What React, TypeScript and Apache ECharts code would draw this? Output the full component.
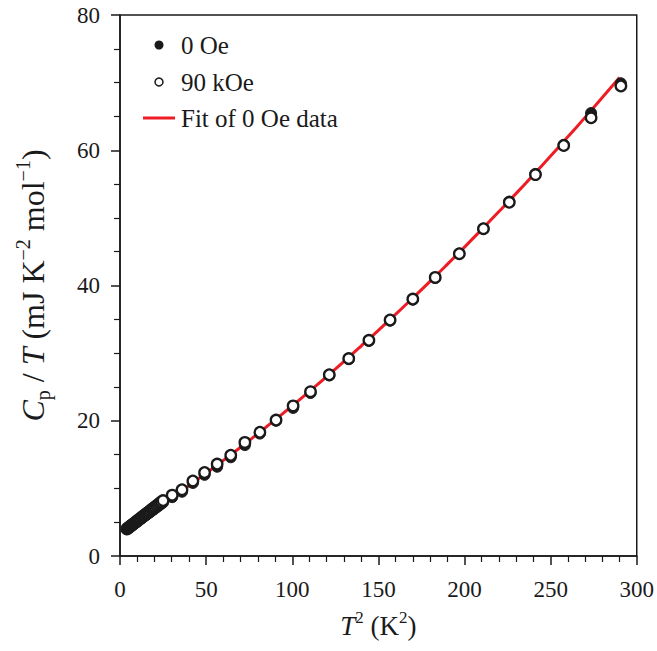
import React, { useEffect, useRef } from "react";
import * as echarts from "echarts";

// T^2 (K^2) positions of the measured points
const tSquared = [
  4, 4.41, 4.84, 5.29, 5.76, 6.25, 6.76, 7.29, 7.84, 8.41, 9, 9.61, 10.24, 10.89,
  11.56, 12.25, 12.96, 13.69, 14.44, 15.21, 16, 16.81, 17.64, 18.49, 19.36, 20.25,
  21.16, 22.09, 23.04, 24.01, 25,
  30.3, 36, 42.3, 49.1, 56.4, 64.3, 72.5, 81.2, 90.6, 100.5, 110.6, 121.5, 132.8,
  144.5, 156.8, 170, 183, 197, 211, 226, 241.2, 257.6, 273.5, 290.8,
];

// Cp/T (mJ K^-2 mol^-1), 0 Oe (filled circles)
const cpZero = [
  3.98, 4.05, 4.13, 4.21, 4.3, 4.39, 4.49, 4.59, 4.69, 4.8, 4.91, 5.02, 5.14, 5.26,
  5.39, 5.52, 5.65, 5.79, 5.93, 6.07, 6.22, 6.37, 6.53, 6.69, 6.85, 7.02,
  7.19, 7.37, 7.55, 7.73, 7.92,
  8.7, 9.5, 10.8, 12.0, 13.2, 14.6, 16.4, 18.1, 20.0, 21.9, 24.1, 26.7, 29.1,
  31.8, 34.8, 37.9, 41.1, 44.7, 48.4, 52.4, 56.5, 60.8, 65.5, 69.9,
];

// Cp/T (mJ K^-2 mol^-1), 90 kOe (open circles)
const cpNinety = [
  4.0, 4.08, 4.17, 4.26, 4.35, 4.45, 4.55, 4.66, 4.77, 4.88, 5.0, 5.12, 5.25, 5.38,
  5.51, 5.65, 5.79, 5.94, 6.09, 6.24, 6.4, 6.56, 6.73, 6.9, 7.07, 7.25,
  7.43, 7.62, 7.81, 8.0, 8.2,
  9.0, 9.8, 11.1, 12.35, 13.6, 14.9, 16.8, 18.3, 20.1, 22.2, 24.3, 26.8, 29.2,
  31.9, 34.9, 38.0, 41.2, 44.7, 48.4, 52.3, 56.4, 60.7, 64.8, 69.5,
];

// Fit of 0 Oe data
const fitX = [
  4, 10, 20, 30, 40, 50, 60, 70, 80, 90, 100, 110, 120, 130, 140, 150, 160, 170,
  180, 190, 200, 210, 220, 230, 240, 250, 260, 270, 280, 290,
];
const fitY = [
  4.06, 5.07, 6.79, 8.56, 10.37, 12.23, 14.14, 16.09, 18.09, 20.13, 22.22, 24.36,
  26.54, 28.77, 31.05, 33.37, 35.74, 38.16, 40.62, 43.13, 45.68, 48.28, 50.93,
  53.62, 56.36, 59.15, 61.98, 64.86, 67.79, 70.76,
];

const seriesNames = ["0 Oe", "90 kOe", "Fit of 0 Oe data"];

const FONT = "Liberation Serif";
const INK = "#1a1a1a";
const RED = "#ee1c25";

export default function App() {
  const ref = useRef<HTMLDivElement>(null);
  useEffect(() => {
    if (!ref.current) return;
    const chart = echarts.init(ref.current, undefined, { renderer: "svg" });
    const rich = (fs: number, lh: number) => ({
      n: { fontFamily: FONT, fontSize: fs, color: INK, lineHeight: lh },
      i: { fontFamily: FONT, fontSize: fs, fontStyle: "italic", color: INK, lineHeight: lh },
      sup: { fontFamily: FONT, fontSize: Math.round(fs * 0.62), color: INK, lineHeight: Math.round(fs * 0.62), verticalAlign: "top" },
      sub: { fontFamily: FONT, fontSize: Math.round(fs * 0.62), color: INK, lineHeight: Math.round(fs * 0.62), verticalAlign: "bottom" },
    });
    const legendText = (text: string, y: number) => ({
      type: "text",
      style: { text, x: 181, y, font: `25px "${FONT}"`, fill: INK, verticalAlign: "middle" },
    });
    chart.setOption({
      animation: false,
      backgroundColor: "#fff",
      grid: {
        left: 120,
        right: 20,
        top: 15,
        bottom: 95,
        show: true,
        borderColor: INK,
        borderWidth: 1.5,
        backgroundColor: "transparent",
      },
      graphic: [
        { type: "circle", shape: { cx: 159, cy: 45, r: 4.5 }, style: { fill: INK } },
        legendText(seriesNames[0], 45),
        { type: "circle", shape: { cx: 159, cy: 82, r: 4 }, style: { fill: "#fff", stroke: INK, lineWidth: 1.5 } },
        legendText(seriesNames[1], 82),
        { type: "line", shape: { x1: 143, y1: 118, x2: 175, y2: 118 }, style: { stroke: RED, lineWidth: 3 } },
        legendText(seriesNames[2], 118),
      ],
      xAxis: {
        type: "value",
        min: 0,
        max: 300,
        interval: 50,
        name: "{i|T}{sup|2}{n| (K}{sup|2}{n|)}",
        nameLocation: "middle",
        nameGap: 53,
        nameTextStyle: { rich: rich(27, 34) },
        axisLine: { lineStyle: { color: INK, width: 1.5 } },
        axisTick: { length: 9, lineStyle: { color: INK, width: 1.5 } },
        minorTick: { show: true, splitNumber: 5, length: 6, lineStyle: { color: INK, width: 1.2 } },
        axisLabel: { fontFamily: FONT, fontSize: 23, color: INK, margin: 22 },
        splitLine: { show: false },
      },
      yAxis: {
        type: "value",
        min: 0,
        max: 80,
        interval: 20,
        name: "{i|C}{sub|p}{n| / }{i|T}{n| (mJ K}{sup|−2}{n| mol}{sup|−1}{n|)}",
        nameLocation: "middle",
        nameGap: 67,
        nameRotate: 90,
        nameTextStyle: { rich: rich(32, 40) },
        axisLine: { lineStyle: { color: INK, width: 1.5 } },
        axisTick: { length: 9, lineStyle: { color: INK, width: 1.5 } },
        minorTick: { show: true, splitNumber: 4, length: 6, lineStyle: { color: INK, width: 1.2 } },
        axisLabel: { fontFamily: FONT, fontSize: 23, color: INK, margin: 20 },
        splitLine: { show: false },
      },
      series: [
        {
          name: seriesNames[2],
          type: "line",
          data: fitX.map((x, k) => [x, fitY[k]]),
          smooth: true,
          symbol: "none",
          lineStyle: { color: RED, width: 3 },
          itemStyle: { color: RED },
          z: 1,
        },
        {
          name: seriesNames[0],
          type: "scatter",
          data: tSquared.map((x, k) => [x, cpZero[k]]),
          symbol: "circle",
          symbolSize: 11,
          itemStyle: { color: INK, borderColor: INK, borderWidth: 1, opacity: 1 },
          z: 2,
        },
        {
          name: seriesNames[1],
          type: "scatter",
          data: tSquared.map((x, k) => [x, cpNinety[k]]),
          symbol: "circle",
          symbolSize: 10.5,
          itemStyle: { color: "#fff", borderColor: INK, borderWidth: 2.3, opacity: 1 },
          z: 3,
        },
      ],
    });
    return () => chart.dispose();
  }, []);
  return <div ref={ref} style={{ width: 657, height: 651, position: "absolute", left: 0, top: 0 }} />;
}
